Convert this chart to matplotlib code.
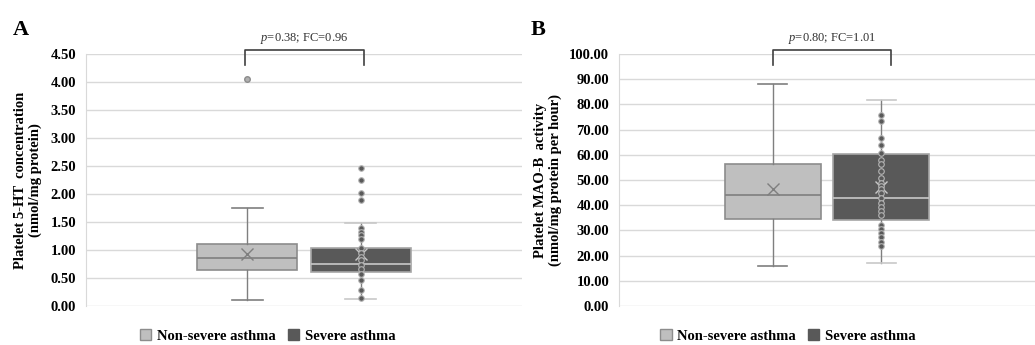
import matplotlib
matplotlib.use("Agg")
import matplotlib.pyplot as plt
from matplotlib.patches import Patch
import numpy as np

plt.rcParams['font.family'] = ['Liberation Serif', 'DejaVu Serif']
plt.rcParams['mathtext.fontset'] = 'custom'
plt.rcParams['mathtext.rm'] = 'Liberation Serif'
plt.rcParams['mathtext.it'] = 'Liberation Serif:italic'

# データ
groups = ["Non-severe asthma", "Severe asthma"]

# A: 血小板 5-HT
a_whislo = [0.11, 0.12]
a_q1 = [0.64, 0.61]
a_med = [0.85, 0.75]
a_q3 = [1.10, 1.04]
a_whishi = [1.75, 1.49]
a_mean = [0.92, 0.93]
a_fliers = [[4.05], []]
a_sev_points = [2.47, 2.25, 2.02, 1.89, 1.39, 1.32, 1.27, 1.19, 1.03, 0.95,
                0.87, 0.82, 0.73, 0.66, 0.57, 0.46, 0.29, 0.14]
a_text = r"$\mathit{p}$=0.38; FC=0.96"

# B: 血小板 MAO-B
b_whislo = [15.9, 17.1]
b_q1 = [34.7, 34.0]
b_med = [44.2, 42.7]
b_q3 = [56.5, 60.2]
b_whishi = [88.0, 81.9]
b_mean = [46.6, 47.3]
b_fliers = [[], []]
b_sev_points = [75.9, 73.4, 66.8, 63.9, 60.8, 57.9, 56.5, 53.6, 50.7, 48.9,
                47.6, 46.3, 44.7, 42.7, 41.0, 39.4, 37.7, 36.0, 32.1, 30.4,
                28.8, 27.2, 25.5, 23.8]
b_text = r"$\mathit{p}$=0.80; FC=1.01"

box_colors = ["#bfbfbf", "#595959"]
edge_colors = ["#8c8c8c", "#a6a6a6"]
median_colors = ["#7f7f7f", "#c8c8c8"]
positions = [-0.26, 0.26]

fig = plt.figure(figsize=(10.35, 3.45), dpi=100)
axA = fig.add_axes([86 / 1035, 1 - 306 / 345, 436 / 1035, 252 / 345])
axB = fig.add_axes([619 / 1035, 1 - 306 / 345, 416 / 1035, 252 / 345])


def draw_panel(ax, whislo, q1, med, q3, whishi, mean, fliers, sev_points,
               ymax, ystep, ylabel, label_x, text, br_x, br_top, br_bot, leg_x):
    for i in range(2):
        st = [dict(whislo=whislo[i], q1=q1[i], med=med[i], q3=q3[i],
                   whishi=whishi[i], mean=mean[i], fliers=fliers[i])]
        ax.bxp(st, positions=[positions[i]], widths=0.46, patch_artist=True,
               showmeans=True, capwidths=0.14,
               boxprops=dict(facecolor=box_colors[i], edgecolor=edge_colors[i], linewidth=1.2),
               medianprops=dict(color=median_colors[i], linewidth=1.2),
               whiskerprops=dict(color="#7f7f7f", linewidth=1),
               capprops=dict(color="#7f7f7f" if i == 0 else "#c8c8c8", linewidth=1.2),
               meanprops=dict(marker="x", markersize=8, markeredgecolor="#7f7f7f" if i == 0 else "#c8c8c8",
                              markeredgewidth=1),
               flierprops=dict(marker="o", markersize=4, markerfacecolor="#b0b0b0",
                               markeredgecolor="#8c8c8c"),
               zorder=3)
    ax.plot([positions[1]] * len(sev_points), sev_points, "o", markersize=4,
            markerfacecolor="#595959", markeredgecolor="#b5b5b5", markeredgewidth=0.8,
            zorder=4)

    ax.set_xlim(-1, 1)
    ax.set_ylim(0, ymax)
    ticks = np.arange(0, ymax + ystep / 2, ystep)
    ax.set_yticks(ticks)
    ax.set_yticklabels([f"{t:.2f}" for t in ticks], fontweight="bold", fontsize=10.5)
    ax.set_xticks([])
    ax.tick_params(axis="y", length=0, pad=7)
    ax.grid(axis="y", color="#d9d9d9", linewidth=1)
    ax.set_axisbelow(True)
    for s in ["top", "right", "bottom"]:
        ax.spines[s].set_visible(False)
    ax.spines["left"].set_color("#d9d9d9")

    ax.set_ylabel(ylabel, fontweight="bold", fontsize=10.5, linespacing=1.15)
    ax.yaxis.set_label_coords(label_x, 0.5)

    # 有意差ブラケット
    ax.plot([br_x[0], br_x[0], br_x[1], br_x[1]], [br_bot, br_top, br_top, br_bot],
            color="#404040", linewidth=1.2, clip_on=False)
    ax.text(np.mean(br_x), br_top + (ymax * 0.015), text, ha="center", va="bottom",
            fontsize=9, color="#333333")

    handles = [Patch(facecolor=box_colors[0], edgecolor="#8c8c8c"),
               Patch(facecolor=box_colors[1], edgecolor="#595959")]
    ax.legend(handles, groups, loc="center", bbox_to_anchor=(leg_x, -0.118), ncol=2,
              frameon=False, prop=dict(weight="bold", size=10.5), handlelength=0.8,
              handleheight=0.8, handletextpad=0.4, columnspacing=0.8,
              borderpad=0.1)


draw_panel(axA, a_whislo, a_q1, a_med, a_q3, a_whishi, a_mean, a_fliers, a_sev_points,
           4.5, 0.5, "Platelet 5-HT  concentration\n(nmol/mg protein)", -0.10,
           a_text, [-0.27, 0.275], 4.57, 4.30, 0.417)
draw_panel(axB, b_whislo, b_q1, b_med, b_q3, b_whishi, b_mean, b_fliers, b_sev_points,
           100, 10, "Platelet MAO-B  activity\n(nmol/mg protein per hour)", -0.137,
           b_text, [-0.26, 0.31], 101.6, 95.6, 0.406)

fig.text(13 / 1035, 1 - 30 / 345, "A", fontsize=16, fontweight="bold", va="center")
fig.text(531 / 1035, 1 - 30 / 345, "B", fontsize=16, fontweight="bold", va="center")

fig.savefig("out.png", dpi=100, facecolor="white")
